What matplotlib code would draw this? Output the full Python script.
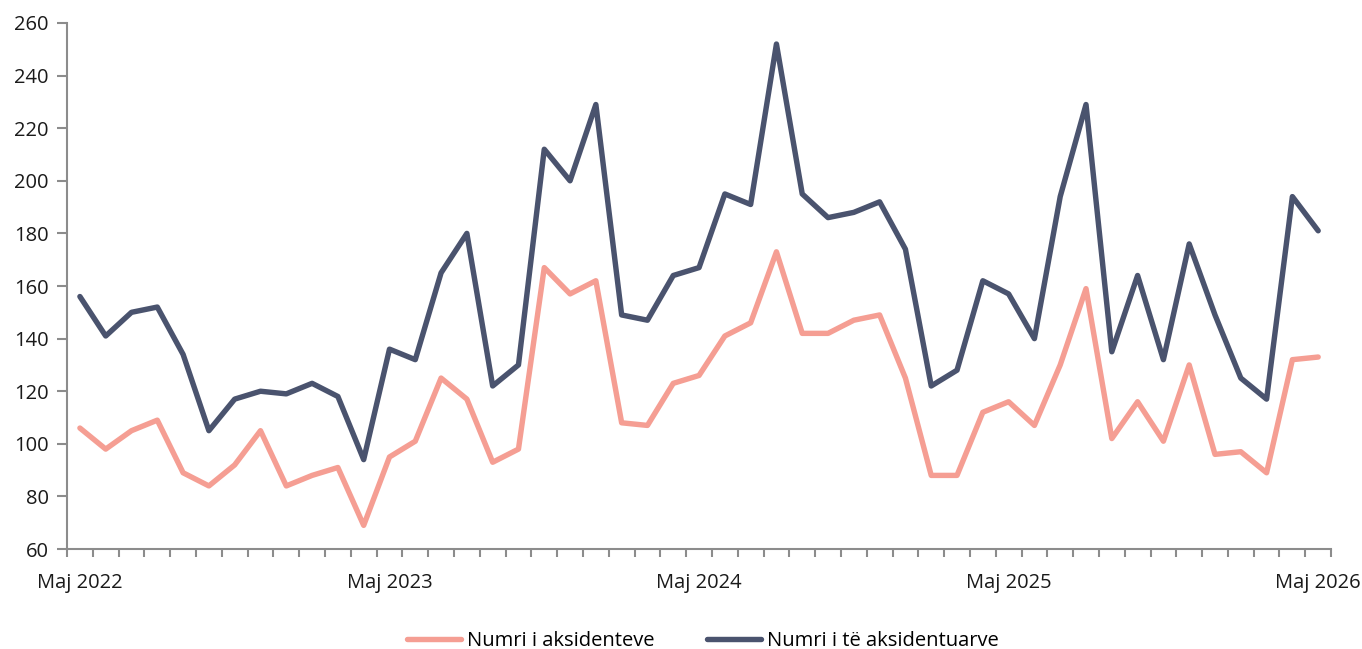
import numpy as np
import matplotlib.pyplot as plt

plt.rcParams['font.family'] = ['Open Sans', 'DejaVu Sans']

# monthly values, Maj 2022 .. Maj 2026
aksidente = [106, 98, 105, 109, 89, 84, 92, 105, 84, 88, 91, 69,
             95, 101, 125, 117, 93, 98, 167, 157, 162, 108, 107, 123,
             126, 141, 146, 173, 142, 142, 147, 149, 125, 88, 88, 112,
             116, 107, 130, 159, 102, 116, 101, 130, 96, 97, 89, 132,
             133]
aksidentuar = [156, 141, 150, 152, 134, 105, 117, 120, 119, 123, 118, 94,
               136, 132, 165, 180, 122, 130, 212, 200, 229, 149, 147, 164,
               167, 195, 191, 252, 195, 186, 188, 192, 174, 122, 128, 162,
               157, 140, 194, 229, 135, 164, 132, 176, 149, 125, 117, 194,
               181]
year_labels = ['Maj 2022', 'Maj 2023', 'Maj 2024', 'Maj 2025', 'Maj 2026']
series_names = ['Numri i aksidenteve', 'Numri i të aksidentuarve']

pink = '#f59e93'
navy = '#4a536e'
grey = '#8c8c8c'
fs = 14.5

x = np.arange(len(aksidente))

fig = plt.figure(figsize=(13.62, 6.49), dpi=100)
ax = fig.add_axes([0.0492, 0.154, 0.9281, 0.8106])

ax.plot(x, aksidente, color=pink, lw=3.9, solid_joinstyle='round',
        solid_capstyle='round', label=series_names[0])
ax.plot(x, aksidentuar, color=navy, lw=3.9, solid_joinstyle='round',
        solid_capstyle='round', label=series_names[1])

ax.set_xlim(-0.5, len(x) - 0.5)
ax.set_ylim(60, 260)
ax.set_yticks(np.arange(60, 261, 20))

# labels every 12 months, tick marks on month boundaries
ax.set_xticks(np.arange(0, len(x), 12))
ax.set_xticklabels(year_labels)
ax.set_xticks(np.arange(-0.5, len(x)), minor=True)
ax.tick_params(axis='x', which='major', length=0, pad=17, labelsize=fs,
               labelcolor='#1a1a1a')
ax.tick_params(axis='x', which='minor', length=6, width=1.5, color=grey,
               direction='out')
ax.tick_params(axis='y', length=7, width=1.5, color=grey, labelsize=fs,
               labelcolor='#1a1a1a', pad=6)

for s in ['top', 'right']:
    ax.spines[s].set_visible(False)
for s in ['left', 'bottom']:
    ax.spines[s].set_color(grey)
    ax.spines[s].set_linewidth(1.5)

fig.legend(loc='center', ncol=2, frameon=False, fontsize=fs,
           handlelength=2.7, handletextpad=0.3, columnspacing=2.6,
           bbox_to_anchor=(0.516, 0.013), borderaxespad=0, borderpad=0)

fig.savefig('out.png', dpi=100)
